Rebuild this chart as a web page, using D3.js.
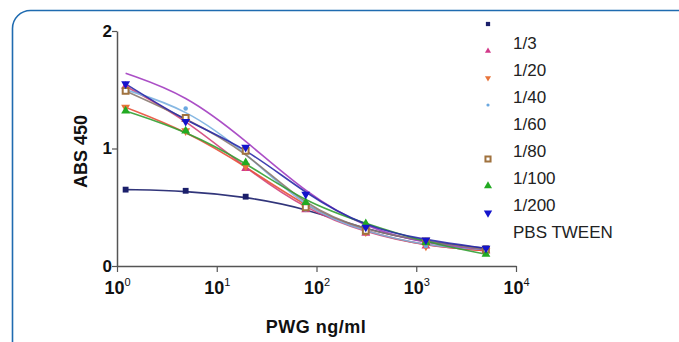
<!DOCTYPE html>
<html>
<head>
<meta charset="utf-8">
<script src="https://cdn.jsdelivr.net/npm/d3@7"></script>
<style>
  body { margin: 0; background: #fff; }
  svg { display: block; font-family: Arial, "Liberation Sans", sans-serif; }
</style>
</head>
<body>
<script>
// PWG concentration (ng/ml), 4-fold dilution series
const concentrations = [1.22, 4.88, 19.5, 78, 312, 1250, 5000];

const seriesNames = ['1/3', '1/20', '1/40', '1/60', '1/80', '1/100', '1/200', 'PBS TWEEN'];
const seriesColors = ['#1b1f6b', '#d23a8a', '#e8743a', '#6aa8e0', '#a23cc0', '#a0723e', '#22aa22', '#1414cc'];
const seriesLineColors = ['#1b1f6b', '#d2447a', '#e8503a', '#7ab0e0', '#a23cc0', '#8a7a70', '#32a032', '#2a2aa8'];
const seriesSymbols = ['square', 'triangle', 'triangleDown', 'circle', 'none', 'squareOpen', 'triangle', 'triangleDown'];

const abs1_3 = [0.65, 0.64, 0.59, 0.49, 0.31, 0.20, 0.15];
const abs1_20 = [1.53, 1.25, 0.83, 0.48, 0.28, 0.17, 0.13];
const abs1_40 = [1.35, 1.15, 0.85, 0.50, 0.29, 0.17, 0.13];
const abs1_60 = [1.50, 1.34, 0.97, 0.48, 0.29, 0.17, 0.14];
const abs1_80 = [1.64, 1.46, 1.07, 0.62, 0.32, 0.19, 0.14];
const abs1_100 = [1.49, 1.26, 0.98, 0.50, 0.30, 0.21, 0.14];
const abs1_200 = [1.32, 1.15, 0.88, 0.54, 0.36, 0.20, 0.10];
const absPbsTween = [1.55, 1.23, 1.01, 0.61, 0.33, 0.22, 0.15];

const seriesValues = [abs1_3, abs1_20, abs1_40, abs1_60, abs1_80, abs1_100, abs1_200, absPbsTween];

const yTicks = [0, 1, 2];
const xTicks = [1, 10, 100, 1000, 10000];

const WIDTH = 679, HEIGHT = 342;
const PLOT = { left: 117, right: 516, top: 31, bottom: 266 };

const svg = d3.select('body').append('svg')
  .attr('width', WIDTH)
  .attr('height', HEIGHT);

// rounded frame
svg.append('rect')
  .attr('x', 12.5).attr('y', 10.5)
  .attr('width', 700).attr('height', 400)
  .attr('rx', 18).attr('ry', 18)
  .attr('fill', 'none')
  .attr('stroke', '#1f6bb0')
  .attr('stroke-width', 1.6);

const x = d3.scaleLog().domain([1, 10000]).range([PLOT.left, PLOT.right]);
const y = d3.scaleLinear().domain([0, 2]).range([PLOT.bottom, PLOT.top]);

// y axis
const yAxis = d3.axisLeft(y).tickValues(yTicks).tickSize(5).tickSizeOuter(0).tickFormat(d3.format('d'));
const gy = svg.append('g')
  .attr('transform', `translate(${PLOT.left},0)`)
  .call(yAxis);
gy.select('.domain').attr('stroke', '#555').attr('stroke-width', 1.5);
gy.selectAll('.tick line').attr('stroke', '#555').attr('stroke-width', 1.2);
gy.selectAll('.tick text')
  .attr('x', -5)
  .attr('fill', '#111')
  .style('font-size', '17px')
  .style('font-weight', 'bold');

// x axis
const xAxis = d3.axisBottom(x).tickValues(xTicks).tickSize(6).tickSizeOuter(0).tickFormat('');
const gx = svg.append('g')
  .attr('transform', `translate(0,${PLOT.bottom})`)
  .call(xAxis);
gx.select('.domain').attr('stroke', '#555').attr('stroke-width', 1.5);
gx.selectAll('.tick line').attr('stroke', '#555').attr('stroke-width', 1.2);
gx.selectAll('.tick').each(function (d) {
  const t = d3.select(this).append('text')
    .attr('y', 28)
    .attr('text-anchor', 'middle')
    .attr('fill', '#111')
    .style('font-size', '18px')
    .style('font-weight', 'bold');
  t.append('tspan').text('10');
  t.append('tspan')
    .attr('dy', -8)
    .style('font-size', '11px')
    .style('font-weight', 'normal')
    .text(Math.round(Math.log10(d)));
});

// axis titles
svg.append('text')
  .attr('transform', `translate(87,${(PLOT.top + PLOT.bottom) / 2 + 3}) rotate(-90)`)
  .attr('text-anchor', 'middle')
  .attr('fill', '#111')
  .style('font-size', '18px')
  .style('font-weight', 'bold')
  .text('ABS 450');

svg.append('text')
  .attr('x', 316).attr('y', 333)
  .attr('text-anchor', 'middle')
  .attr('fill', '#111')
  .style('font-size', '18px')
  .style('font-weight', 'bold')
  .style('letter-spacing', '0.5px')
  .text('PWG ng/ml');

// fitted-looking curves through the data
const line = d3.line()
  .x(d => x(d[0]))
  .y(d => y(d[1]))
  .curve(d3.curveBasis);

const series = seriesNames.map((name, i) => ({
  name,
  color: seriesColors[i],
  lineColor: seriesLineColors[i],
  symbol: seriesSymbols[i],
  points: concentrations.map((c, j) => [c, seriesValues[i][j]])
}));

svg.append('g').selectAll('path')
  .data(series)
  .enter().append('path')
  .attr('d', d => line(d.points))
  .attr('fill', 'none')
  .attr('stroke', d => d.lineColor)
  .attr('stroke-width', 1.6)
  .attr('stroke-opacity', 0.9);

const symbolPath = (kind, size) => {
  if (kind === 'square' || kind === 'squareOpen') return d3.symbol(d3.symbolSquare, size)();
  if (kind === 'triangle' || kind === 'triangleDown') return d3.symbol(d3.symbolTriangle, size)();
  if (kind === 'circle') return d3.symbol(d3.symbolCircle, size)();
  return null;
};

const drawMarker = (g, kind, color, size) => {
  if (kind === 'none') return;
  const p = g.append('path').attr('d', symbolPath(kind, size));
  if (kind === 'triangleDown') p.attr('transform', 'rotate(180)');
  if (kind === 'squareOpen') {
    p.attr('fill', '#fff').attr('stroke', color).attr('stroke-width', 2);
  } else {
    p.attr('fill', color);
  }
};

// markers on data
series.forEach(s => {
  s.points.forEach(pt => {
    const g = svg.append('g').attr('transform', `translate(${x(pt[0])},${y(pt[1])})`);
    drawMarker(g, s.symbol, s.color, s.symbol === 'circle' ? 16 : 34);
  });
});

// legend (markers sit a little above their labels, as in the original)
const legendSizes = [18, 16, 16, 8, 0, 26, 28, 30];
const legend = svg.append('g').attr('transform', 'translate(488,24)');
series.forEach((s, i) => {
  const g = legend.append('g').attr('transform', `translate(0,${i * 27})`);
  drawMarker(g, s.symbol, s.color, legendSizes[i]);
  g.append('text')
    .attr('x', 25).attr('y', 25)
    .attr('fill', '#222')
    .style('font-size', '17px')
    .text(s.name);
});
</script>
</body>
</html>
